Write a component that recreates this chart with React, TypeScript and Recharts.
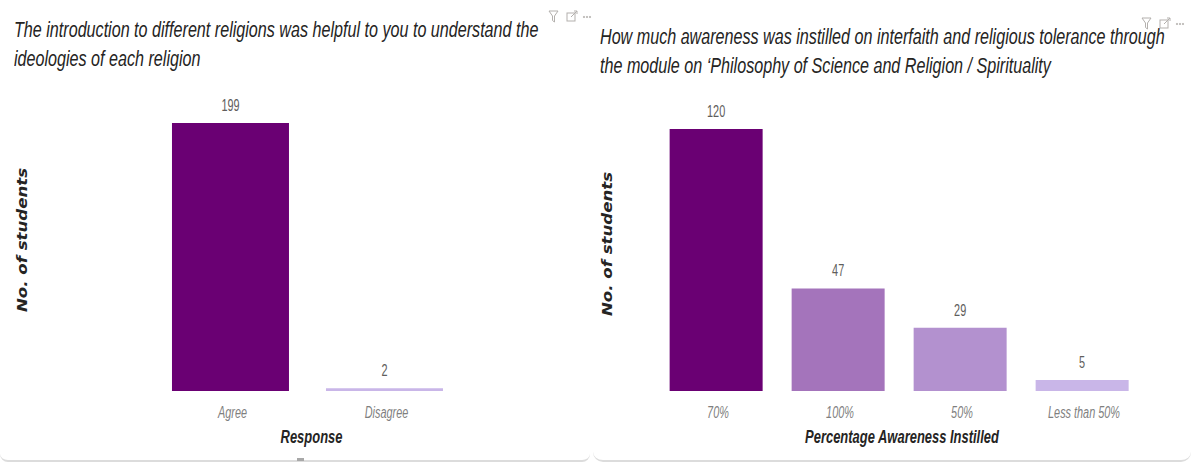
import { BarChart, Bar, XAxis, YAxis, Cell, LabelList, Label } from 'recharts';

const responseCategories = ['Agree', 'Disagree'];
const responseValues = [199, 2];
const responseColors = ['#6A0073', '#C9B6E8'];

const awarenessCategories = ['70%', '100%', '50%', 'Less than 50%'];
const awarenessValues = [120, 47, 29, 5];
const awarenessColors = ['#6A0073', '#A474BB', '#B391CF', '#C9B6E8'];

const responseData = responseCategories.map((name, i) => ({ name, value: responseValues[i] }));
const awarenessData = awarenessCategories.map((name, i) => ({ name, value: awarenessValues[i] }));

const SANS = '"Liberation Sans", Arial, sans-serif';

const titleStyle = {
  position: 'absolute',
  fontFamily: SANS,
  fontStyle: 'italic',
  fontSize: 22,
  lineHeight: '29px',
  color: '#252423',
  whiteSpace: 'nowrap',
  transform: 'scaleX(0.733)',
  transformOrigin: 'left top',
} as const;

// squeezed text, the original uses a condensed font that is not installed here
function Squeezed({ x, y, sx = 0.72, children, ...rest }: any) {
  return (
    <text transform={`translate(${x},${y}) scale(${sx},1)`} textAnchor="middle" fontFamily={SANS} {...rest}>
      {children}
    </text>
  );
}

function CategoryTick({ x, y, payload }: any) {
  return (
    <Squeezed x={x + 2} y={y + 19} sx={0.68} fontSize={16} fontStyle="italic" fill="#7f7f7f">
      {payload.value}
    </Squeezed>
  );
}

function PanelIcons({ left, top }: { left: number; top: number }) {
  return (
    <svg style={{ position: 'absolute', left, top }} width={48} height={14} fill="none" stroke="#b3b0ad" strokeWidth={1}>
      <path d="M1 1 H10 L6.5 6 V12 L4.5 10.5 V6 Z" />
      <rect x={19} y={3} width={8} height={8} />
      <path d="M23 7 L29 1 M26 1 H29 V4" />
      <circle cx={36} cy={7} r={0.7} />
      <circle cx={39} cy={7} r={0.7} />
      <circle cx={42} cy={7} r={0.7} />
    </svg>
  );
}

function Panel({ data, colors, maxValue, axisTitle, left, width, plotTop, plotLeft, plotRight, yLabelX, yLabelShift, xLabelShift }: any) {
  return (
    <div style={{ position: 'absolute', left, top: 0, width, height: 462 }}>
      <BarChart
        width={width}
        height={462}
        data={data}
        barCategoryGap="12%"
        margin={{ top: plotTop, left: 0, right: plotRight, bottom: 0 }}
      >
        <XAxis dataKey="name" height={71} interval={0} axisLine={false} tickLine={false} tick={<CategoryTick />}>
          <Label
            content={({ viewBox }: any) => (
              <Squeezed
                x={viewBox.x + viewBox.width / 2 + xLabelShift}
                y={443}
                sx={0.72}
                fontSize={18}
                fontStyle="italic"
                fontWeight={700}
                fill="#252423"
              >
                {axisTitle}
              </Squeezed>
            )}
          />
        </XAxis>
        <YAxis width={plotLeft} domain={[0, maxValue]} tick={false} axisLine={false} tickLine={false}>
          <Label
            content={({ viewBox }: any) => (
              <text
                transform={`translate(${yLabelX},${viewBox.y + viewBox.height / 2 + yLabelShift}) rotate(-90) scale(1.23,1)`}
                textAnchor="middle"
                fontFamily='"DejaVu Sans", sans-serif'
                fontStyle="oblique"
                fontWeight={700}
                fontSize={13.5}
                fill="#252423"
              >
                No. of students
              </text>
            )}
          />
        </YAxis>
        <Bar dataKey="value" isAnimationActive={false}>
          {data.map((d: any, i: number) => (
            <Cell key={d.name} fill={colors[i]} />
          ))}
          <LabelList
            dataKey="value"
            content={({ x, y, width: w, value }: any) => (
              <Squeezed x={x + w / 2} y={y - 12} sx={0.68} fontSize={16} fill="#605e5c">
                {value}
              </Squeezed>
            )}
          />
        </Bar>
      </BarChart>
    </div>
  );
}

export default function App() {
  return (
    <div style={{ position: 'absolute', left: 0, top: 0, width: 1191, height: 462, background: '#fff', overflow: 'hidden' }}>
      <div style={{ position: 'absolute', left: 0, top: 440, width: 590, height: 20, borderBottom: '2px solid #dcdcdc', borderRadius: '0 0 8px 8px' }} />
      <div style={{ position: 'absolute', left: 593, top: 440, width: 598, height: 20, borderBottom: '2px solid #dcdcdc', borderRadius: '0 0 10px 10px' }} />
      <div style={{ position: 'absolute', left: 297, top: 458, width: 7, height: 3, background: '#a8a8a8' }} />
      <Panel
        data={responseData}
        colors={responseColors}
        maxValue={199}
        axisTitle="Response"
        left={0}
        width={590}
        plotTop={123}
        plotLeft={153.5}
        plotRight={128.5}
        yLabelX={27}
        yLabelShift={-17}
        xLabelShift={4}
      />
      <Panel
        data={awarenessData}
        colors={awarenessColors}
        maxValue={120}
        axisTitle="Percentage Awareness Instilled"
        left={594}
        width={597}
        plotTop={129}
        plotLeft={61}
        plotRight={48}
        yLabelX={18}
        yLabelShift={-16}
        xLabelShift={3}
      />
      <div style={{ ...titleStyle, left: 14, top: 15 }}>
        The introduction to different religions was helpful to you to understand the
        <br />
        ideologies of each religion
      </div>
      <div style={{ ...titleStyle, left: 600, top: 22 }}>
        How much awareness was instilled on interfaith and religious tolerance through
        <br />
        the module on ‘Philosophy of Science and Religion / Spirituality
      </div>
      <PanelIcons left={548} top={10} />
      <PanelIcons left={1141} top={17} />
    </div>
  );
}
